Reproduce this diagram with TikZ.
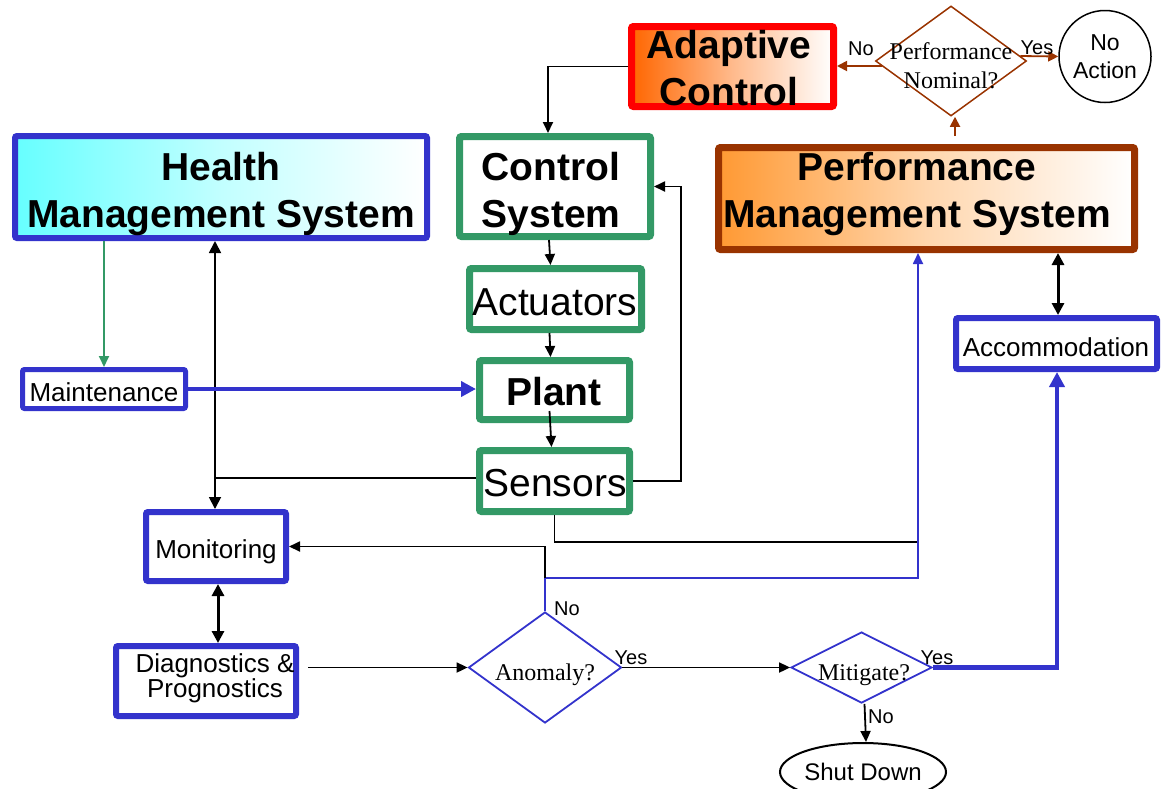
\documentclass[tikz,border=0pt]{standalone}
\usepackage{fontspec}
\setmainfont{Liberation Sans}
\newfontfamily\serifface{Liberation Serif}
\usetikzlibrary{shapes.geometric,arrows.meta,calc}
\definecolor{hblue}{HTML}{3333CC}
\definecolor{hgreen}{HTML}{339966}
\definecolor{hbrown}{HTML}{993300}
\definecolor{hred}{HTML}{FF0000}
\definecolor{hcyan}{HTML}{66FFFF}
\definecolor{horange}{HTML}{FF9933}
\definecolor{hadapt}{HTML}{FF6600}
\begin{document}
\begin{tikzpicture}[x=1pt,y=-1pt,
  box/.style={draw, rounded corners=2pt, inner sep=0pt},
  txt/.style={align=center, inner sep=0pt},
  bigtxt/.style={txt, font=\fontsize{39}{47}\selectfont\bfseries},
  midtxt/.style={txt, font=\fontsize{39}{47}\selectfont},
  smalltxt/.style={txt, font=\fontsize{26}{22}\selectfont},
  dtext/.style={font=\serifface\fontsize{24}{29}\selectfont, align=center, inner sep=0pt},
  lbl/.style={font=\fontsize{20}{20}\selectfont, inner sep=0pt},
  dia/.style={diamond, draw, inner sep=0pt},
  gbox/.style={box, draw=hgreen, line width=7pt, fill=white},
  bbox/.style={box, draw=hblue, line width=6pt, fill=white},
  tip/.style={-{Triangle[length=11pt,width=10pt]}},
  dtip/.style={{Triangle[length=12pt,width=12pt]}-{Triangle[length=12pt,width=12pt]}},
  conn/.style={line width=1.8pt, black},
  bconn/.style={line width=1.8pt, hblue},
  bthick/.style={line width=4.5pt, hblue, -{Triangle[length=15pt,width=15pt]}},
  brconn/.style={line width=1.8pt, hbrown, -{Triangle[length=10pt,width=10pt]}}
]
\useasboundingbox (0,0) rectangle (1161,788);

% boxes
\node[box, draw=hblue, line width=6pt, left color=hcyan, right color=white, middle color=hcyan!40!white,
      minimum width=412pt, minimum height=102pt] (hms) at (221,187) {};
\node[bigtxt] (hmst) at (221,194) {Health\\Management System};
\node[gbox, minimum width=191pt, minimum height=100pt] (cs) at (555,186.5) {};
\node[bigtxt] (cst) at (551,194) {Control\\System};
\node[gbox, minimum width=172pt, minimum height=61pt] (act) at (555.5,299) {};
\node[midtxt] (actt) at (555,302) {Actuators};
\node[gbox, minimum width=150pt, minimum height=59pt] (plant) at (554.5,390) {};
\node[bigtxt] (plantt) at (554,392) {Plant};
\node[gbox, minimum width=150pt, minimum height=61pt] (sens) at (554.5,481) {};
\node[midtxt] (senst) at (555,483) {Sensors};
\node[box, draw=hred, line width=7pt, left color=hadapt, right color=white, middle color=hadapt!45!white,
      minimum width=202pt, minimum height=80pt] (ac) at (732.5,66.5) {};
\node[bigtxt] (act2) at (729,68.5) {Adaptive\\Control};
\node[box, draw=hbrown, line width=7pt, left color=horange, right color=white, middle color=horange!40!white,
      minimum width=416pt, minimum height=102pt] (pms) at (926.5,198.5) {};
\node[bigtxt] (pmst) at (917,194) {Performance\\Management System};
\node[bbox, minimum width=201pt, minimum height=51pt] (acc) at (1056.5,343.5) {};
\node[smalltxt] (acct) at (1056,347.5) {Accommodation};
\node[bbox, line width=5pt, minimum width=163pt, minimum height=39pt] (mnt) at (104,389) {};
\node[smalltxt] (mntt) at (104,392) {Maintenance};
\node[bbox, minimum width=140pt, minimum height=69pt] (mon) at (216,546.5) {};
\node[smalltxt] (mont) at (216,551.5) {Monitoring};
\node[bbox, minimum width=180pt, minimum height=70pt] (diag) at (206,681) {};
\node[smalltxt] (diagt) at (215,678) {Diagnostics \&\\Prognostics};

% decisions
\node[dia, draw=hbrown, line width=1.5pt, minimum width=151pt, minimum height=110pt] (pn) at (951,61) {};
\node[dtext] (pnt) at (951,66) {Performance\\Nominal?};
\node[dia, draw=hblue, line width=1.8pt, minimum width=153pt, minimum height=111pt] (an) at (545,667.5) {};
\node[dtext] (ant) at (545,675) {Anomaly?};
\node[dia, draw=hblue, line width=1.8pt, minimum width=141pt, minimum height=71pt] (mit) at (861.5,667.5) {};
\node[dtext] (mitt) at (864,675) {Mitigate?};
\node[circle, draw, line width=1.5pt, minimum size=92pt, inner sep=0pt, align=center,
      font=\fontsize{23}{28}\selectfont] (na) at (1105,56.5) {No\\Action};
\node[ellipse, draw, line width=2pt, minimum width=140pt, minimum height=58pt, inner sep=0pt,
      font=\fontsize{24}{24}\selectfont] (sd) at (863,772) {Shut Down};

% coordinates
\coordinate (acbend) at (548,66.5);
\coordinate (j1) at (215,478);
\coordinate (j2) at (918,542);
\coordinate (j3) at (545,578);
\coordinate (d1) at (308,667.5);
\coordinate (pb) at (955,136);
\coordinate (pnw) at ([yshift=-5pt,xshift=7pt]pn.west);
\coordinate (pne) at ([yshift=5pt,xshift=-7pt]pn.east);

% connectors
\draw[conn, tip] (ac.west) -- (acbend) -- (acbend |- cs.north);
\draw[conn, tip] ([xshift=-6pt]cs.south) -- ([xshift=-5pt]act.north);
\draw[conn, tip] ([xshift=-6pt]act.south) -- ([xshift=-4pt]plant.north);
\draw[conn, tip] ([xshift=-5pt,yshift=12pt]plant.south) -- ([xshift=-3pt]sens.north);
\draw[conn, tip] (sens.east) -- ++(48,0) |- (cs.east);
\draw[conn, dtip] ([xshift=-6pt]hms.south) -- ([xshift=-1pt]mon.north);
\draw[conn] (j1 -| sens.west) -- (j1);
\draw[line width=1.8pt, hgreen, tip] (hms.south -| mnt.north) -- (mnt.north);
\draw[bthick] (mnt.east) -- (mnt.east -| plant.west);
\draw[conn] (sens.south) |- (j2);
\draw[bconn, -{Triangle[length=11pt,width=10pt]}] (an.north) -- (j3) -| ([xshift=-8.5pt]pms.south);
\draw[conn, tip] (j3) -- (j3 |- mon.east) -- (mon.east);
\draw[line width=3pt, dtip] ([xshift=2pt]mon.south) -- ([xshift=12pt]diag.north);
\draw[conn, tip] (d1) -- (an.west);
\draw[conn, tip] (an.east) -- (mit.west);
\draw[bthick] (mit.east) -| ([xshift=0.5pt]acc.south);
\draw[conn, tip] ([xshift=3pt]mit.south) -- ([xshift=3pt]sd.north);
\draw[line width=3pt, dtip] ([xshift=131.5pt]pms.south) -- ([xshift=1.5pt]acc.north);
\draw[brconn] (pb) -- (pb |- pn.south);
\draw[brconn] (pnw) -- (pnw -| ac.east);
\draw[brconn] (pne) -- (na.west);

% labels
\node[lbl] (lno1) at (861,49) {No};
\node[lbl] (lyes1) at (1037,48) {Yes};
\node[lbl] (lno2) at (567,609) {No};
\node[lbl] (lyes2) at (631,658) {Yes};
\node[lbl] (lyes3) at (937,658) {Yes};
\node[lbl] (lno3) at (881,717) {No};
\end{tikzpicture}
\end{document}
